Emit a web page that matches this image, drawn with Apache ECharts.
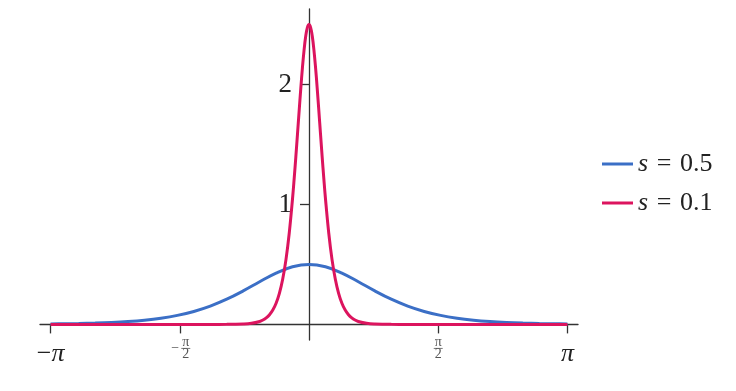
<!DOCTYPE html>
<html>
<head>
<meta charset="utf-8">
<script src="https://cdn.jsdelivr.net/npm/echarts@6/dist/echarts.min.js"></script>
<style>
html,body{margin:0;padding:0;background:#fff;}
#chart{width:736px;height:391px;}
</style>
</head>
<body>
<div id="chart"></div>
<script>
// ---- data ----
const seriesNames = ['s = 0.5', 's = 0.1'];

const xHalf = [-3.1416,-3.0,-2.8,-2.6,-2.4,-2.2,-2.0,-1.8,-1.6,-1.4,-1.2,-1.0,-0.8,-0.6,-0.4,-0.2,0,
               0.2,0.4,0.6,0.8,1.0,1.2,1.4,1.6,1.8,2.0,2.2,2.4,2.6,2.8,3.0,3.1416];
const yHalf = [0.0037,0.0049,0.0073,0.0109,0.0162,0.0240,0.0353,0.0518,0.0753,0.1081,0.1525,0.2100,0.2795,0.3558,0.4278,0.4805,0.5000,
               0.4805,0.4278,0.3558,0.2795,0.2100,0.1525,0.1081,0.0753,0.0518,0.0353,0.0240,0.0162,0.0109,0.0073,0.0049,0.0037];

const xTenth = [-3.1416,-2.5,-2.0,-1.5,-1.2,-1.0,-0.8,-0.7,-0.6,-0.56,-0.52,-0.48,-0.44,-0.40,-0.36,-0.32,-0.28,-0.24,-0.20,-0.18,-0.16,-0.14,-0.12,-0.10,-0.08,-0.06,-0.04,-0.02,0,
                0.02,0.04,0.06,0.08,0.10,0.12,0.14,0.16,0.18,0.20,0.24,0.28,0.32,0.36,0.40,0.44,0.48,0.52,0.56,0.6,0.7,0.8,1.0,1.2,1.5,2.0,2.5,3.1416];
const yTenth = [0,0,0,0,0.0001,0.0005,0.0034,0.0091,0.0247,0.0367,0.0546,0.0810,0.1198,0.1766,0.2589,0.3763,0.5404,0.7625,1.0499,1.2173,1.3977,1.5869,1.7789,1.9661,2.1391,2.2878,2.4026,2.4752,2.5000,
                2.4752,2.4026,2.2878,2.1391,1.9661,1.7789,1.5869,1.3977,1.2173,1.0499,0.7625,0.5404,0.3763,0.2589,0.1766,0.1198,0.0810,0.0546,0.0367,0.0247,0.0091,0.0034,0.0005,0.0001,0,0,0,0];

const xTickValues = [-3.14159265, -1.57079633, 1.57079633, 3.14159265];
const xTickLabels = ['−π', '−π/2', 'π/2', 'π'];
const yTickValues = [1, 2];
const yTickLabels = ['1', '2'];

// ---- chart ----
const serif = '"Liberation Serif", "DejaVu Serif", serif';
const richLabels = {
  '−π': '{mn|−}{pi|π}',
  'π': '{pi|π}',
  '−π/2': '{fmh|−}{fn|π}\n{fm|−}{bar| }\n{fmh|−}{fn|2}',
  'π/2': '{fn|π}\n{bar| }\n{fn|2}'
};

const X_MIN = -3.27, X_MAX = 3.27, Y_MIN = -0.13, Y_MAX = 2.63;
const G_LEFT = 40, G_RIGHT = 158, G_TOP = 9, G_BOTTOM = 51;
const W = 736, H = 391;
const gw = W - G_LEFT - G_RIGHT, gh = H - G_TOP - G_BOTTOM;
// shift axes so they cross at the origin (line, ticks and labels together)
const yAxisOffset = -gw * (0 - X_MIN) / (X_MAX - X_MIN);
const xAxisOffset = -gh * (0 - Y_MIN) / (Y_MAX - Y_MIN);

const chart = echarts.init(document.getElementById('chart'), null, {renderer: 'canvas'});
const option = {
  animation: false,
  backgroundColor: '#ffffff',
  grid: {left: G_LEFT, right: G_RIGHT, top: G_TOP, bottom: G_BOTTOM, containLabel: false},
  legend: {
    orient: 'vertical',
    left: 602,
    top: 150,
    padding: 0,
    itemWidth: 31,
    itemHeight: 3,
    itemGap: 11,
    icon: 'rect',
    data: seriesNames,
    formatter: function (name) {
      const parts = name.split(' ');
      return '{it|' + parts[0] + '}\u200A ' + parts.slice(1).join('\u200A ');
    },
    textStyle: {
      fontFamily: serif, fontSize: 26, color: '#222', lineHeight: 28,
      rich: {
        it: {fontFamily: serif, fontSize: 26, fontStyle: 'italic', color: '#222', lineHeight: 28}
      }
    }
  },
  xAxis: {
    type: 'value',
    position: 'bottom',
    offset: xAxisOffset,
    min: X_MIN, max: X_MAX,
    splitLine: {show: false},
    axisLine: {onZero: false, lineStyle: {color: '#333', width: 1.3}},
    axisTick: {show: true, length: 9, customValues: xTickValues, lineStyle: {color: '#333', width: 1.3}},
    axisLabel: {
      customValues: xTickValues,
      margin: 15,
      formatter: function (v) {
        let best = 0;
        for (let i = 0; i < xTickValues.length; i++) {
          if (Math.abs(xTickValues[i] - v) < Math.abs(xTickValues[best] - v)) best = i;
        }
        return richLabels[xTickLabels[best]];
      },
      rich: {
        pi: {fontFamily: serif, fontSize: 26, fontStyle: 'italic', color: '#222', lineHeight: 30},
        mn: {fontFamily: serif, fontSize: 26, color: '#222', lineHeight: 30},
        fn: {fontFamily: serif, fontSize: 14, color: '#555', width: 10, align: 'center', lineHeight: 6},
        fm: {fontFamily: serif, fontSize: 14, color: '#555', width: 12, align: 'center', lineHeight: 6},
        fmh: {fontFamily: serif, fontSize: 14, color: 'rgba(0,0,0,0)', width: 12, align: 'center', lineHeight: 6},
        bar: {fontSize: 1, width: 9, height: 1, backgroundColor: '#777', lineHeight: 6}
      }
    }
  },
  yAxis: {
    type: 'value',
    position: 'left',
    offset: yAxisOffset,
    min: Y_MIN, max: Y_MAX,
    splitLine: {show: false},
    axisLine: {show: true, onZero: false, lineStyle: {color: '#333', width: 1.3}},
    axisTick: {show: true, length: 9, customValues: yTickValues, lineStyle: {color: '#333', width: 1.3}},
    axisLabel: {
      customValues: yTickValues,
      margin: 17,
      fontFamily: serif, fontSize: 27, color: '#222',
      formatter: function (v) {
        const i = yTickValues.indexOf(Math.round(v));
        return i >= 0 ? yTickLabels[i] : '';
      }
    }
  },
  series: [
    {
      name: seriesNames[0], type: 'line', showSymbol: false, symbol: 'none',
      smooth: 0.4,
      lineStyle: {color: '#3b6fc6', width: 3}, itemStyle: {color: '#3b6fc6'},
      data: xHalf.map((x, i) => [x, yHalf[i]])
    },
    {
      name: seriesNames[1], type: 'line', showSymbol: false, symbol: 'none',
      smooth: 0.4,
      lineStyle: {color: '#dc145e', width: 3}, itemStyle: {color: '#dc145e'},
      data: xTenth.map((x, i) => [x, yTenth[i]])
    }
  ]
};
chart.setOption(option);
</script>
</body>
</html>
